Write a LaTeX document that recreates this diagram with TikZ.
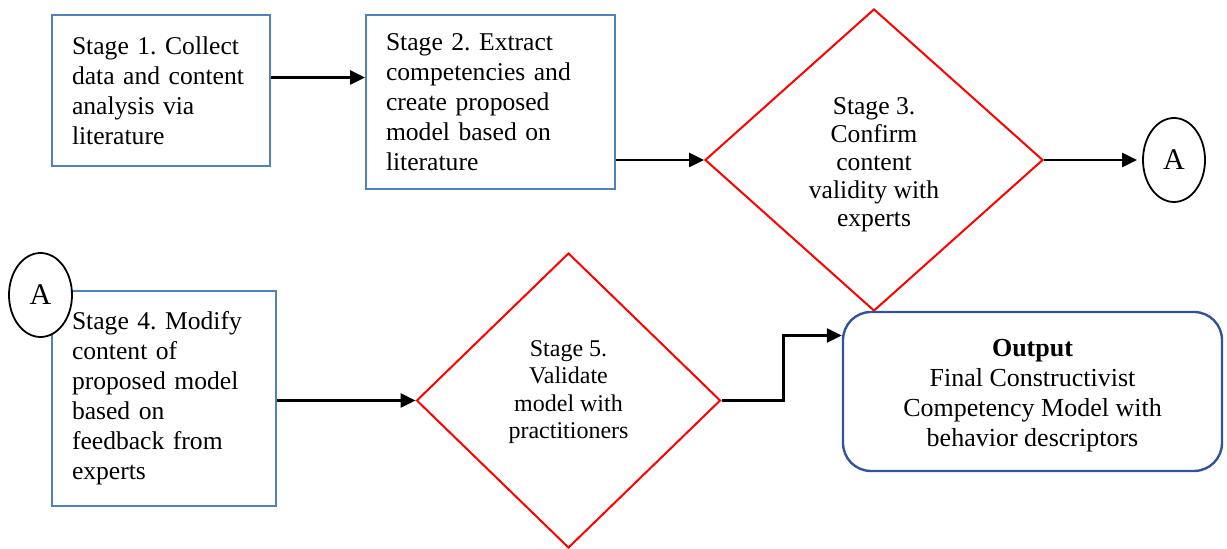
\documentclass[tikz,border=0pt]{standalone}
\usepackage{fontspec}
\setmainfont{Liberation Serif}
\usetikzlibrary{shapes.geometric,arrows.meta}
\definecolor{boxblue}{RGB}{79,129,189}
\definecolor{outblue}{RGB}{47,85,151}
\frenchspacing
\hyphenpenalty=10000
\begin{document}
\begin{tikzpicture}[x=0.5pt,y=-0.5pt,
	stage/.style={draw=boxblue,line width=1pt,rectangle,align=left,inner ysep=0pt,font=\fontsize{12.8}{15}\selectfont},
	check/.style={draw=red,line width=1pt,diamond,inner sep=0pt,align=center},
	conn/.style={draw=black,line width=0.9pt,ellipse,fill=white,inner sep=0pt,minimum width=31pt,minimum height=42pt,font=\fontsize{15}{15}\selectfont},
	arr/.style={line width=1.3pt,-{Triangle[length=7.5pt,width=7pt]}}]
	\useasboundingbox (0,0) rectangle (1227,549);
	\node [stage,minimum width=109pt,minimum height=75.5pt,text width=89pt,inner xsep=10pt] (s1) at (161,90.5)
		{Stage 1. Collect\\data and content\\analysis via\\literature};
	\node [stage,minimum width=124.5pt,minimum height=87pt,text width=104.5pt,inner xsep=10pt] (s2) at (490.5,102)
		{Stage 2. Extract\\competencies and\\create proposed\\model based on\\literature};
	\node [check,minimum width=169pt,minimum height=151pt,font=\fontsize{12.8}{14}\selectfont] (s3) at (874,160)
		{\rule{0pt}{13.7pt}Stage 3.\\Confirm\\content\\validity with\\experts};
	\node [conn] (a1) at (1174,160) {A};
	\node [stage,minimum width=112pt,minimum height=107.5pt,text width=92pt,inner xsep=10pt] (s4) at (164,398.5)
		{Stage 4. Modify\\content of\\proposed model\\based on\\feedback from\\experts};
	\node [conn,minimum width=31.5pt] (a2) at (40.5,295) {A};
	\node [check,minimum width=152pt,minimum height=147.5pt,font=\fontsize{12}{13.7}\selectfont] (s5) at (568.5,400.5)
		{Stage 5.\\Validate\\model with\\practitioners\\[-2.7pt]};
	\node [draw=outblue,line width=1.2pt,rounded corners=14pt,minimum width=189.5pt,minimum height=79.5pt,
		align=center,font=\fontsize{13}{15}\selectfont] (out) at (1032.5,391.5)
		{\rule{0pt}{13pt}\textbf{Output}\\Final Constructivist\\Competency Model with\\behavior descriptors};
	\draw [arr] ([yshift=6.5pt]s1.east) -- ([yshift=6.5pt]s1.east -| s2.west);
	\draw [arr] (s2.east |- s3.west) -- (s3.west);
	\draw [arr,shorten >=2.5pt] (s3.east) -- (a1.west);
	\draw [arr] (s4.east |- s5.west) -- (s5.west);
	\draw [arr] (s5.east) -- ++(62,0) |- ([yshift=28pt]out.west);
\end{tikzpicture}
\end{document}
